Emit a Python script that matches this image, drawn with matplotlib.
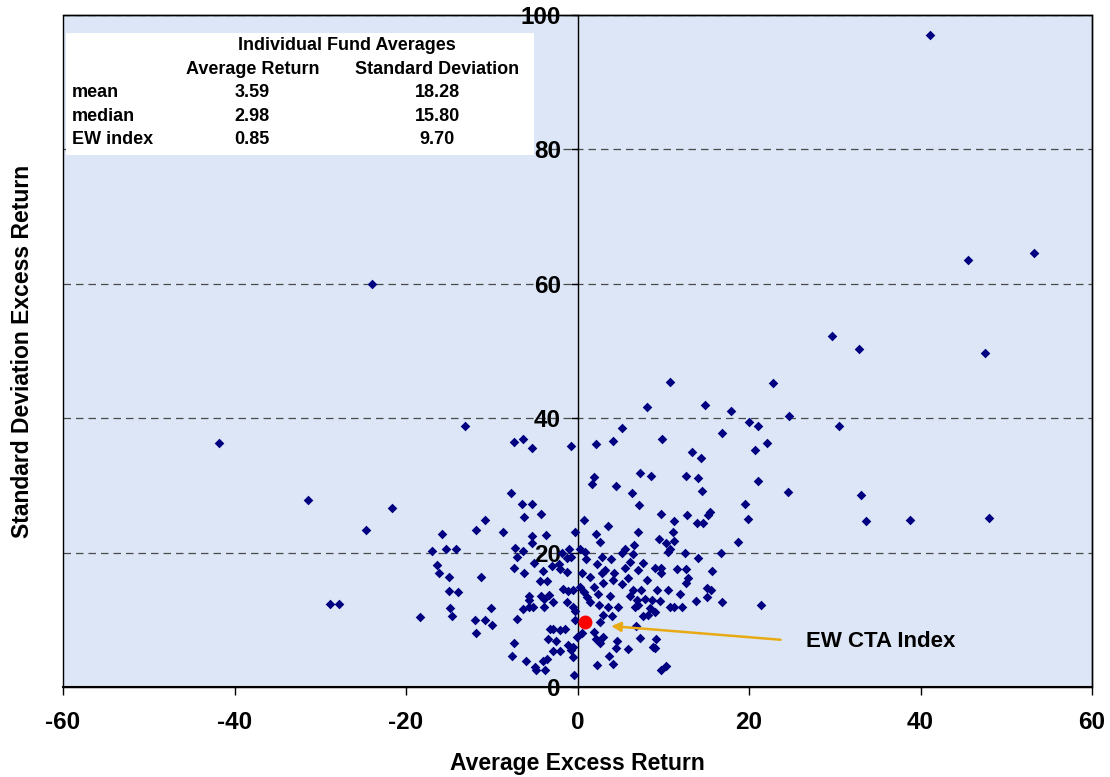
import matplotlib
matplotlib.use("Agg")
import matplotlib.pyplot as plt
from matplotlib.patches import Rectangle

plt.rcParams["font.family"] = ["Liberation Sans", "DejaVu Sans"]
plt.rcParams["font.weight"] = "bold"
plt.rcParams["axes.unicode_minus"] = False

# individual funds: (average excess return, std dev of excess return)
fund_ret = [
    -41.8, -31.4, -21.6, -24.7, -28.9, -27.8, -24.0, -18.4,
    -13.1, -7.4, -6.4, -5.3, -0.8, -7.7, -6.5, -5.3, -6.2, -4.3,
    -10.8, -11.8, -15.8, -8.7, -5.3, -3.7, -0.3, -5.3, -17.0, -15.3, -14.2, -7.3, -6.4, -7.1,
    -1.8, -1.0, -1.2, -0.7, -5.1, -16.4, -16.2, -7.4, -6.2, -4.0, -3.0, -2.0, -2.2, -1.2,
    -15.0, -11.2, -4.4, -3.6, -15.0, -13.9, -1.7, -1.1, -5.6, -4.2, -3.3, -5.6, -3.9, -2.9, -1.2, -0.5,
    -14.9, -14.6, -10.1, -11.9, -10.8, -10.0, -11.8, -6.3, -5.6, -5.2, -3.9, -7.0,
    -3.2, -2.8, -2.0, -1.5, -3.4, -2.5, -0.3, -0.1, -7.4, -7.6, -6.0, -4.9, -4.8, -3.8, -4.0, -3.6,
    -2.8, -2.0, -1.1, -0.7, -0.5, -0.4, -0.5, 0.5, -0.3,
    10.8, 8.1, 14.9, 17.9, 20.0, 21.1, 5.2, 16.9, 2.2, 4.1, 9.9, 20.7, 22.1, 13.3, 14.4,
    1.9, 1.7, 4.5, 7.3, 8.6, 12.7, 14.0, 14.5, 6.4, 7.2, 21.1, 19.5, 19.9, 9.7, 11.3, 12.8,
    13.9, 14.6, 15.2, 15.5, 0.7, 3.5, 2.2, 2.6, 7.1, 11.1, 11.3, 9.5, 10.3, 18.7, 6.6, 5.5,
    5.2, 10.8, 10.6, 12.5, 16.7, 14.0, 0.3, 0.9, 1.0, 2.9, 3.9, 2.3, 6.5, 6.1, 7.6, 5.5,
    3.2, 4.2, 0.5, 1.5, 2.8, 7.1, 9.0, 9.7, 9.7, 11.6, 12.7, 15.7, 8.1, 12.9, 12.7, 5.9,
    5.2, 3.0, 4.1, 1.9, 0.3, -0.5, 6.5, 7.4, 9.3, 10.5, 15.1, 15.6, 12.0, 2.4, 3.8, 1.1,
    0.7, 6.1, 6.9, 7.9, 8.7, 9.6, 10.8, 11.2, 12.2, 13.8, 15.1, 16.9, 1.5, 2.5, 3.5, 4.7,
    6.7, 7.1, 8.4, 9.0, 7.6, 8.2, 3.0, 4.0, 2.6, 6.8, 1.9, 2.2, 3.0, 2.6, 4.6, 7.3, 9.2,
    4.5, 5.9, 8.8, 9.0, 3.7, 2.3, 4.1, 9.7, 10.3,
    22.8, 24.7, 30.5, 24.6, 33.1, 33.7, 38.8, 48.0, 21.4,
    41.1, 45.5, 53.2, 29.7, 32.8, 47.5,
]
fund_sd = [
    36.3, 27.9, 26.6, 23.3, 12.3, 12.3, 60.0, 10.4,
    38.8, 36.4, 36.9, 35.6, 35.8, 28.8, 27.2, 27.2, 25.3, 25.8,
    24.9, 23.3, 22.8, 23.1, 22.4, 22.6, 23.0, 21.5, 20.2, 20.6, 20.5, 20.7, 20.3, 19.4,
    19.9, 20.6, 19.2, 19.4, 18.5, 18.2, 16.9, 17.7, 16.9, 17.3, 18.0, 17.6, 18.3, 17.1,
    16.3, 16.4, 15.8, 15.8, 14.3, 14.1, 14.6, 14.3, 13.5, 13.5, 13.7, 12.9, 13.1, 12.7, 12.7, 11.9,
    11.7, 10.5, 11.7, 10.0, 10.0, 9.2, 8.0, 11.6, 11.9, 11.9, 11.9, 10.1,
    8.6, 8.6, 8.5, 8.6, 7.1, 6.8, 10.0, 7.5, 6.5, 4.6, 3.9, 3.0, 2.6, 2.5, 3.8, 4.1,
    5.4, 5.4, 6.3, 5.5, 4.5, 1.8, 6.0, 8.0, 11.3,
    45.4, 41.7, 41.9, 41.1, 39.4, 38.9, 38.5, 37.8, 36.2, 36.6, 36.9, 35.3, 36.3, 34.9, 34.1,
    31.3, 30.2, 29.9, 31.8, 31.4, 31.4, 31.1, 29.1, 28.9, 27.1, 30.7, 27.3, 25.0, 25.7, 24.7, 25.6,
    24.4, 24.4, 25.6, 26.0, 24.9, 24.0, 22.7, 21.6, 23.0, 23.0, 21.8, 22.0, 21.4, 21.6, 21.1, 20.6,
    20.0, 20.6, 20.1, 20.0, 19.9, 19.2, 20.5, 20.1, 19.0, 19.4, 19.1, 18.3, 19.8, 18.6, 18.4, 17.7,
    17.4, 16.9, 16.9, 16.3, 16.9, 17.4, 17.7, 17.7, 16.9, 17.5, 17.5, 17.2, 15.9, 16.2, 15.5, 16.2,
    15.3, 15.5, 15.9, 14.9, 14.9, 14.4, 14.4, 14.4, 14.5, 14.4, 14.7, 14.4, 13.8, 13.9, 13.5, 13.4,
    14.2, 13.5, 12.9, 13.1, 12.9, 12.8, 11.9, 11.9, 11.9, 12.8, 13.4, 12.6, 12.7, 12.2, 11.9, 11.9,
    11.9, 12.2, 11.7, 11.2, 10.6, 10.7, 10.7, 10.5, 9.7, 9.1, 8.2, 7.2, 7.5, 6.5, 6.8, 7.3, 7.2,
    5.8, 5.6, 5.9, 5.8, 4.6, 3.2, 3.4, 2.6, 3.1,
    45.2, 40.3, 38.8, 29.0, 28.5, 24.7, 24.9, 25.2, 12.2,
    97.0, 63.6, 64.6, 52.2, 50.3, 49.7,
]

# summary table
stat_rows = ["mean", "median", "EW index"]
avg_return = ["3.59", "2.98", "0.85"]
std_dev = ["18.28", "15.80", "9.70"]

ew_ret, ew_sd = 0.85, 9.70

fig = plt.figure(figsize=(11.1, 7.77), dpi=100)
ax = fig.add_axes([63 / 1110, 1 - 687 / 777, 1029 / 1110, 672 / 777])
ax.set_facecolor("#DCE6F6")

ax.scatter(fund_ret, fund_sd, marker="D", s=24, color="#000080", linewidths=0, zorder=3)
ax.plot([ew_ret], [ew_sd], "o", color="#FF0000", ms=9, zorder=4)

ax.set_xlim(-60, 60)
ax.set_ylim(0, 100)
ax.set_xticks(range(-60, 61, 20))
ax.set_yticks(range(0, 101, 20))
ax.yaxis.grid(True, linestyle=(0, (6, 4)), color="#4a4a4a", lw=0.9)
ax.set_axisbelow(True)

ax.spines["left"].set_position(("data", 0))
ax.spines["left"].set_linewidth(1)
ax.spines["bottom"].set_linewidth(1.5)
for s in ("top", "right"):
    ax.spines[s].set_linewidth(1)
ax.add_patch(Rectangle((0, 0), 1, 1, transform=ax.transAxes, fill=False,
                       ec="black", lw=1, zorder=5, clip_on=False))

ax.tick_params(axis="y", direction="out", length=5, width=1, pad=7, labelsize=17.5)
ax.tick_params(axis="x", direction="out", length=6, width=1, pad=11, labelsize=17.5)

ax.set_xlabel("Average Excess Return", fontsize=16.5, fontweight="bold", labelpad=13)
ax.set_ylabel("Standard Deviation Excess Return", fontsize=16.5, fontweight="bold")
ax.yaxis.set_label_coords(-0.028, 0.5)

# arrow to the EW index point
ax.annotate("", xy=(3.6, 9.1), xytext=(24.0, 7.0),
            arrowprops=dict(arrowstyle="-|>", color="#E8AA14", lw=1.8, mutation_scale=14))
ax.text(26.7, 6.7, "EW CTA Index", fontsize=16, fontweight="bold", va="center", ha="left")

# table box
ax.add_patch(Rectangle((0.003, 0.792), 0.455, 0.181, transform=ax.transAxes,
                       fc="white", ec="none", zorder=6))
tk = dict(transform=ax.transAxes, fontsize=13, fontweight="bold", zorder=7, va="center")
ax.text(0.276, 0.954, "Individual Fund Averages", ha="center", **tk)
ax.text(0.184, 0.919, "Average Return", ha="center", **tk)
ax.text(0.3635, 0.919, "Standard Deviation", ha="center", **tk)
for i, lab in enumerate(stat_rows):
    yy = 0.884 - i * 0.0345
    ax.text(0.0087, yy, lab, ha="left", **tk)
    ax.text(0.184, yy, avg_return[i], ha="center", **tk)
    ax.text(0.3635, yy, std_dev[i], ha="center", **tk)

fig.savefig("out.png", dpi=100)
